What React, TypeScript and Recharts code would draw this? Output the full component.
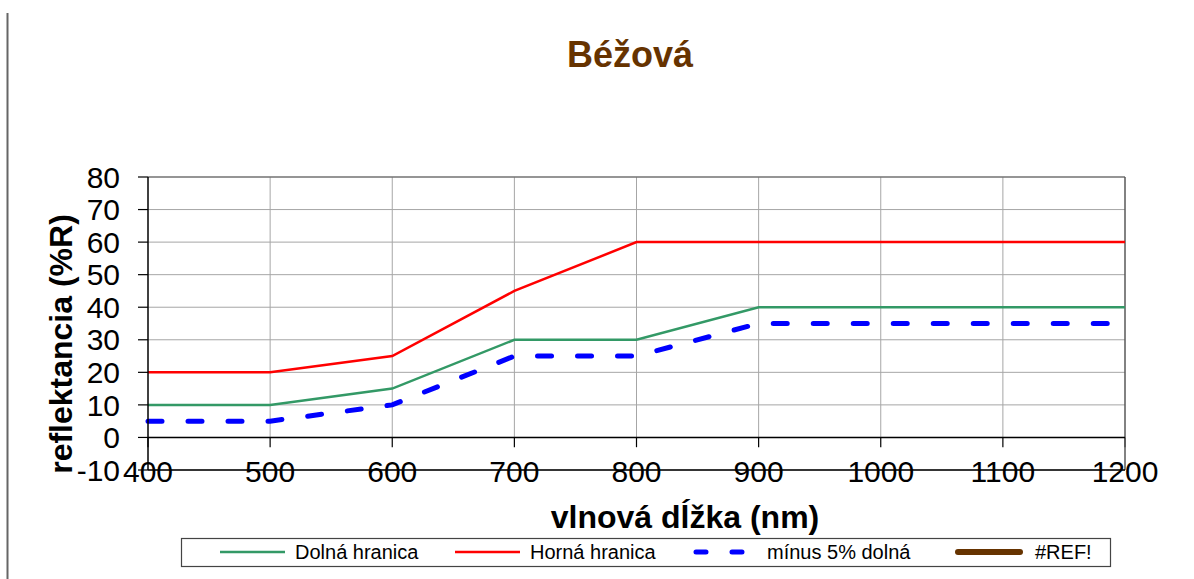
import React from 'react';
import { LineChart, Line, XAxis, YAxis, CartesianGrid, ReferenceLine } from 'recharts';

const wavelengths = [400, 500, 600, 700, 800, 900, 1000, 1100, 1200];
const dolna = [10, 10, 15, 30, 30, 40, 40, 40, 40];
const horna = [20, 20, 25, 45, 60, 60, 60, 60, 60];
const minus5 = [5, 5, 10, 25, 25, 35, 35, 35, 35];
const xTicks = [400, 500, 600, 700, 800, 900, 1000, 1100, 1200];
const yTicks = [-10, 0, 10, 20, 30, 40, 50, 60, 70, 80];

const title = 'Béžová';
const xLabel = 'vlnová dĺžka (nm)';
const yLabel = 'reflektancia (%R)';
const seriesNames = ['Dolná hranica', 'Horná hranica', 'mínus 5% dolná', '#REF!'];

const data = wavelengths.map((wl, i) => ({ wl, dolna: dolna[i], horna: horna[i], minus5: minus5[i] }));

const FONT = '"Liberation Sans", Arial, sans-serif';

function XTick(props: any) {
  const { x, y, payload } = props;
  return (
    <text x={x} y={y + 12} textAnchor="middle" fontSize={30} fontFamily={FONT} fill="#000">
      {payload.value}
    </text>
  );
}

export default function App() {
  return (
    <div style={{ position: 'absolute', left: 0, top: 0, width: 1194, height: 579, background: '#fff' }}>
      <LineChart width={1194} height={579} data={data} margin={{ top: 177, right: 69, left: 0, bottom: 69 }}>
        <CartesianGrid vertical={false} stroke="#a6a6a6" />
        <XAxis
          dataKey="wl"
          type="number"
          domain={[400, 1200]}
          ticks={xTicks}
          interval={0}
          height={40}
          tickLine={false}
          tickSize={0}
          tickMargin={0}
          axisLine={{ stroke: '#000', strokeWidth: 1.5 }}
          tick={<XTick />}
        />
        <YAxis
          type="number"
          domain={[-10, 80]}
          ticks={yTicks}
          interval={0}
          width={148}
          tickSize={10}
          tickMargin={18}
          axisLine={{ stroke: '#000', strokeWidth: 1.5 }}
          tickLine={{ stroke: '#000', strokeWidth: 1.2 }}
          tick={{ fontSize: 30, fill: '#000', fontFamily: FONT }}
        />
        {xTicks.slice(1, -1).map((t) => (
          <ReferenceLine key={'g' + t} segment={[{ x: t, y: 0 }, { x: t, y: 80 }]} stroke="#a6a6a6" />
        ))}
        {xTicks.map((t) => (
          <ReferenceLine key={'t' + t} segment={[{ x: t, y: -3 }, { x: t, y: 0 }]} stroke="#000" strokeWidth={1.2} />
        ))}
        <ReferenceLine y={80} stroke="#595959" strokeWidth={1.2} />
        <ReferenceLine x={1200} stroke="#595959" strokeWidth={1.5} />
        <ReferenceLine y={0} stroke="#000" strokeWidth={1.5} />
        <Line dataKey="dolna" name={seriesNames[0]} stroke="#339966" strokeWidth={2.5} dot={false} isAnimationActive={false} />
        <Line dataKey="horna" name={seriesNames[1]} stroke="#ff0000" strokeWidth={2.5} dot={false} isAnimationActive={false} />
        <Line
          dataKey="minus5"
          name={seriesNames[2]}
          stroke="#0000ff"
          strokeWidth={5}
          strokeDasharray="14 26"
          strokeLinecap="round"
          dot={false}
          isAnimationActive={false}
        />
      </LineChart>
      <svg width={1194} height={579} style={{ position: 'absolute', left: 0, top: 0, pointerEvents: 'none' }}>
        <line x1={7.5} y1={13} x2={7.5} y2={579} stroke="#666" strokeWidth={2} />
        <text x={630} y={67} textAnchor="middle" fontSize={36} fontWeight="bold" fill="#663300" fontFamily={FONT}>
          {title}
        </text>
        <text x={685} y={528} textAnchor="middle" fontSize={32} fontWeight="bold" fill="#000" fontFamily={FONT}>
          {xLabel}
        </text>
        <text
          x={0}
          y={0}
          transform="translate(72,344) rotate(-90)"
          textAnchor="middle"
          fontSize={32}
          fontWeight="bold"
          fill="#000"
          fontFamily={FONT}
        >
          {yLabel}
        </text>
        <rect x={181.5} y={538.5} width={929} height={28} fill="#fff" stroke="#444" strokeWidth={1.2} />
        <line x1={220} y1={552} x2={285} y2={552} stroke="#339966" strokeWidth={2.5} />
        <text x={295} y={559} fontSize={20} fontFamily={FONT} fill="#000">{seriesNames[0]}</text>
        <line x1={455} y1={552} x2={520} y2={552} stroke="#ff0000" strokeWidth={2.5} />
        <text x={530} y={559} fontSize={20} fontFamily={FONT} fill="#000">{seriesNames[1]}</text>
        <line x1={696} y1={552} x2={755} y2={552} stroke="#0000ff" strokeWidth={5} strokeDasharray="10 26" strokeLinecap="round" />
        <text x={767} y={559} fontSize={20} fontFamily={FONT} fill="#000">{seriesNames[2]}</text>
        <line x1={958} y1={552} x2={1020} y2={552} stroke="#663300" strokeWidth={6} strokeLinecap="round" />
        <text x={1035} y={559} fontSize={20} fontFamily={FONT} fill="#000">{seriesNames[3]}</text>
      </svg>
    </div>
  );
}
